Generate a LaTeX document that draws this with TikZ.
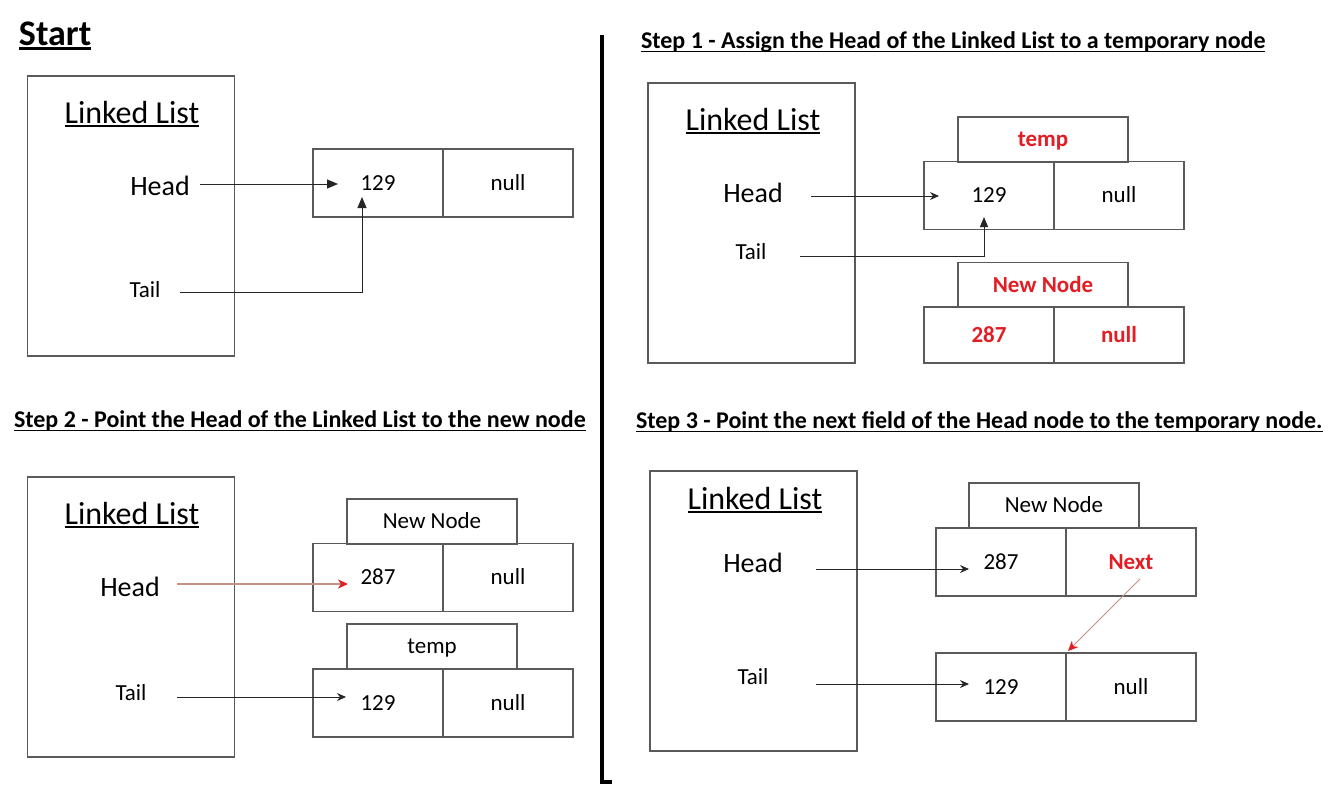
\documentclass[tikz,border=0pt]{standalone}
\usepackage{fontspec}
\setmainfont{Carlito}
\usetikzlibrary{arrows.meta}
\definecolor{txtred}{RGB}{226,30,36}
\definecolor{boxgray}{RGB}{90,90,90}
\definecolor{brownred}{RGB}{196,145,132}
\newcommand{\fsz}[1]{\fontsize{#1}{#1}\selectfont}
\newsavebox{\myulbox}
\newcommand{\myul}[3]{\sbox{\myulbox}{#3}\rlap{\rule[-#2]{\wd\myulbox}{#1}}\usebox{\myulbox}}
\begin{document}
\begin{tikzpicture}[x=1pt,y=-1pt,
  every node/.style={inner sep=0pt, outer sep=0pt},
  txt/.style={text height=#1, text depth=0pt},
  steptitle/.style={txt=15.4pt, anchor=west, font=\bfseries\fsz{24}},
  llbox/.style={draw=boxgray, line width=1.3pt, minimum width=207pt, minimum height=280pt, anchor=north west},
  lltitle/.style={txt=20.5pt, font=\fsz{32}},
  hlab/.style={txt=18pt, font=\fsz{28}},
  tlab/.style={txt=14.7pt, font=\fsz{23}},
  cell/.style={draw=boxgray, line width=1.3pt, minimum width=130pt, minimum height=68pt, txt=14.7pt, font=\fsz{23}},
  tagbox/.style={draw=boxgray, line width=1.3pt, minimum width=170pt, minimum height=45pt, txt=14.7pt, font=\fsz{23}},
  redb/.style={text=txtred, font=\bfseries\fsz{23}},
  bigarr/.style={draw=black!85, line width=1pt, -{Triangle[length=11pt,width=9pt]}},
  smallarr/.style={draw=black!85, line width=0.9pt, -{Stealth[length=9pt,width=8pt,inset=3pt]}},
  redarr/.style={draw=brownred, line width=1.2pt, -{Stealth[length=10pt,width=9pt,inset=3pt,color=txtred]}},
]
\useasboundingbox (0,0) rectangle (1336,785);
\fill[white] (0,0) rectangle (1336,785);

% divider
\draw[line width=3.5pt] (602,35) -- (602,782) -- (612,782);

% ---------- Start ----------
\node[txt=23pt, anchor=west, font=\bfseries\fsz{36}] (t0) at (19,33.5) {\myul{2.6pt}{5pt}{Start}};
\node[llbox] (b0) at (27.5,76) {};
\node[lltitle] (l0) at (132,113) {\myul{1.8pt}{3.5pt}{Linked List}};
\node[hlab] (h0) at (160,186) {Head};
\node[tlab] (tl0) at (145,290) {Tail};
\node[cell] (c0a) at (378,183) {129};
\node[cell] (c0b) at (508,183) {null};
\coordinate (h0o) at (200,184);
\coordinate (h0t) at (338,184);
\coordinate (tl0o) at (180,292);
\coordinate (tl0t) at (362,197);
\draw[bigarr] (h0o) -- (h0t);
\draw[bigarr] (tl0o) -| (tl0t);

% ---------- Step 1 ----------
\node[steptitle] (t1) at (641,41) {\myul{1.7pt}{3.5pt}{Step 1 - Assign the Head of the Linked List to a temporary node}};
\node[llbox] (b1) at (648,83) {};
\node[lltitle] (l1) at (753,120) {\myul{1.8pt}{3.5pt}{Linked List}};
\node[hlab] (h1) at (753,193) {Head};
\node[tlab] (tl1) at (751,252) {Tail};
\node[tagbox, redb] (g1a) at (1043,139.5) {temp};
\node[cell] (c1a) at (989,195.5) {129};
\node[cell] (c1b) at (1119,195.5) {null};
\node[tagbox, redb] (g1b) at (1043,285) {New Node};
\node[cell, redb, minimum height=56pt] (c1c) at (989,335) {287};
\node[cell, redb, minimum height=56pt] (c1d) at (1119,335) {null};
\coordinate (h1o) at (811,196);
\coordinate (h1t) at (939,196);
\coordinate (tl1o) at (800,256);
\coordinate (tl1t) at (984,217);
\draw[smallarr] (h1o) -- (h1t);
\draw[bigarr, -{Triangle[length=10pt,width=8pt]}] (tl1o) -| (tl1t);

% ---------- Step 2 ----------
\node[steptitle] (t2) at (14,420) {\myul{1.7pt}{3.5pt}{Step 2 - Point the Head of the Linked List to the new node}};
\node[llbox] (b2) at (27.5,477) {};
\node[lltitle] (l2) at (132,514) {\myul{1.8pt}{3.5pt}{Linked List}};
\node[hlab] (h2) at (130,587) {Head};
\node[tlab] (tl2) at (131,693) {Tail};
\node[tagbox] (g2a) at (432,521.5) {New Node};
\node[cell] (c2a) at (378,577.5) {287};
\node[cell] (c2b) at (508,577.5) {null};
\node[tagbox] (g2b) at (432,646.5) {temp};
\node[cell] (c2c) at (378,703) {129};
\node[cell] (c2d) at (508,703) {null};
\coordinate (h2o) at (177,584);
\coordinate (h2t) at (348,584);
\coordinate (tl2o) at (177,697);
\coordinate (tl2t) at (346,697);
\draw[redarr] (h2o) -- (h2t);
\draw[smallarr] (tl2o) -- (tl2t);

% ---------- Step 3 ----------
\node[steptitle] (t3) at (636,421) {\myul{1.7pt}{3.5pt}{Step 3 - Point the next field of the Head node to the temporary node.}};
\node[llbox] (b3) at (650,471) {};
\node[lltitle] (l3) at (755,499) {\myul{1.8pt}{3.5pt}{Linked List}};
\node[hlab] (h3) at (753,563) {Head};
\node[tlab] (tl3) at (753,677) {Tail};
\node[tagbox] (g3a) at (1054,505.5) {New Node};
\node[cell] (c3a) at (1001,562) {287};
\node[cell, redb] (c3b) at (1131,562) {Next};
\node[cell] (c3c) at (1001,687) {129};
\node[cell] (c3d) at (1131,687) {null};
\coordinate (h3o) at (816,569);
\coordinate (h3t) at (969,569);
\coordinate (tl3o) at (816,684);
\coordinate (tl3t) at (969,684);
\coordinate (n3o) at (1140,579);
\coordinate (n3t) at (1068,651);
\draw[smallarr] (h3o) -- (h3t);
\draw[smallarr] (tl3o) -- (tl3t);
\draw[redarr, line width=1pt] (n3o) -- (n3t);
\end{tikzpicture}
\end{document}
